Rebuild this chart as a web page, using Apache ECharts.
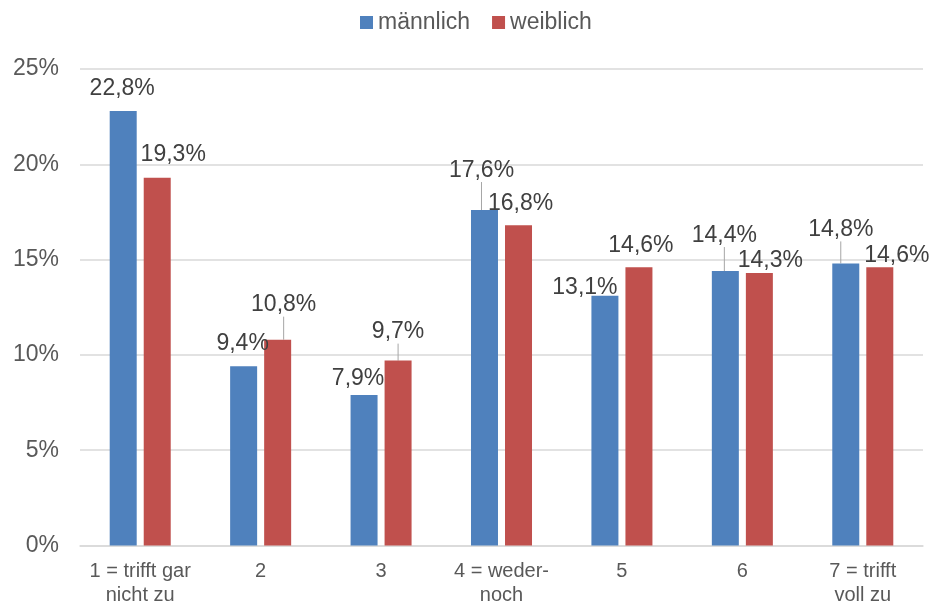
<!DOCTYPE html>
<html>
<head>
    <meta charset="utf-8" />
    <title>männlich / weiblich</title>
    <style>
        body { margin: 0; padding: 0; background: #fff; }
        #chart { width: 932px; height: 605px; }
    </style>
</head>
<body>
    <div id="chart"></div>
    <script src="https://cdn.jsdelivr.net/npm/echarts@6/dist/echarts.min.js"></script>
    <script>
        var categories = ['1 = trifft gar\nnicht zu', '2', '3', '4 = weder-\nnoch', '5', '6', '7 = trifft\nvoll zu'];
        var maleValues = [22.8, 9.4, 7.9, 17.6, 13.1, 14.4, 14.8];
        var femaleValues = [19.3, 10.8, 9.7, 16.8, 14.6, 14.3, 14.6];
        var yTicks = { min: 0, max: 25, interval: 5 };

        // label placement (as moved by hand in the original), px offsets from default 'top'
        var maleOffsets = [[-1, -11], [-1, -11], [-6, -5], [-3, -28], [-20, 3], [-1, -24], [-5, -22]];
        var femaleOffsets = [[16, -11], [6, -23], [0, -17], [2, -10], [2, -10], [11, -1], [17, 0]];
        var maleLines = [false, false, false, true, false, true, true];
        var femaleLines = [false, true, true, false, false, false, false];

        var FONT = 'Liberation Sans, Arial, sans-serif';

        function buildData(values, lines) {
            return values.map(function (v, i) {
                return { value: v, labelLine: { show: lines[i] } };
            });
        }

        var myChart = echarts.init(document.getElementById('chart'));

        var barLabel = {
            show: true,
            position: 'top',
            distance: 0,
            color: '#404040',
            fontSize: 23,
            fontFamily: FONT,
            formatter: function (p) {
                return p.value.toFixed(1).replace('.', ',') + '%';
            }
        };

        myChart.setOption({
            animation: false,
            textStyle: { fontFamily: FONT },
            legend: {
                left: 355,
                top: 6,
                itemWidth: 13,
                itemHeight: 13,
                itemGap: 22,
                icon: 'rect',
                textStyle: { color: '#595959', fontSize: 23, fontFamily: FONT },
                data: ['männlich', 'weiblich']
            },
            grid: {
                left: 80,
                right: 9,
                top: 69,
                bottom: 59.5,
                outerBoundsMode: 'none'
            },
            xAxis: {
                type: 'category',
                data: categories,
                axisTick: { show: false },
                axisLine: { lineStyle: { color: '#d9d9d9', width: 1.5 } },
                axisLabel: {
                    interval: 0,
                    color: '#595959',
                    fontSize: 20,
                    lineHeight: 24,
                    margin: 14,
                    fontFamily: FONT
                }
            },
            yAxis: {
                type: 'value',
                min: yTicks.min,
                max: yTicks.max,
                interval: yTicks.interval,
                axisLine: { show: false },
                axisTick: { show: false },
                splitLine: { lineStyle: { color: '#d9d9d9', width: 1.5 } },
                axisLabel: {
                    formatter: '{value}%',
                    color: '#595959',
                    fontSize: 23,
                    margin: 21,
                    padding: [6, 0, 0, 0],
                    fontFamily: FONT
                }
            },
            series: [{
                name: 'männlich',
                type: 'bar',
                barWidth: 27,
                barGap: '26%',
                itemStyle: { color: '#4f81bd' },
                label: barLabel,
                labelLine: { lineStyle: { color: '#a6a6a6', width: 1 } },
                labelLayout: function (params) {
                    var o = maleOffsets[params.dataIndex];
                    return { dx: o[0], dy: o[1] };
                },
                data: buildData(maleValues, maleLines)
            }, {
                name: 'weiblich',
                type: 'bar',
                barWidth: 27,
                barGap: '26%',
                itemStyle: { color: '#c0504d' },
                label: barLabel,
                labelLine: { lineStyle: { color: '#a6a6a6', width: 1 } },
                labelLayout: function (params) {
                    var o = femaleOffsets[params.dataIndex];
                    return { dx: o[0], dy: o[1] };
                },
                data: buildData(femaleValues, femaleLines)
            }]
        });
    </script>
</body>
</html>
